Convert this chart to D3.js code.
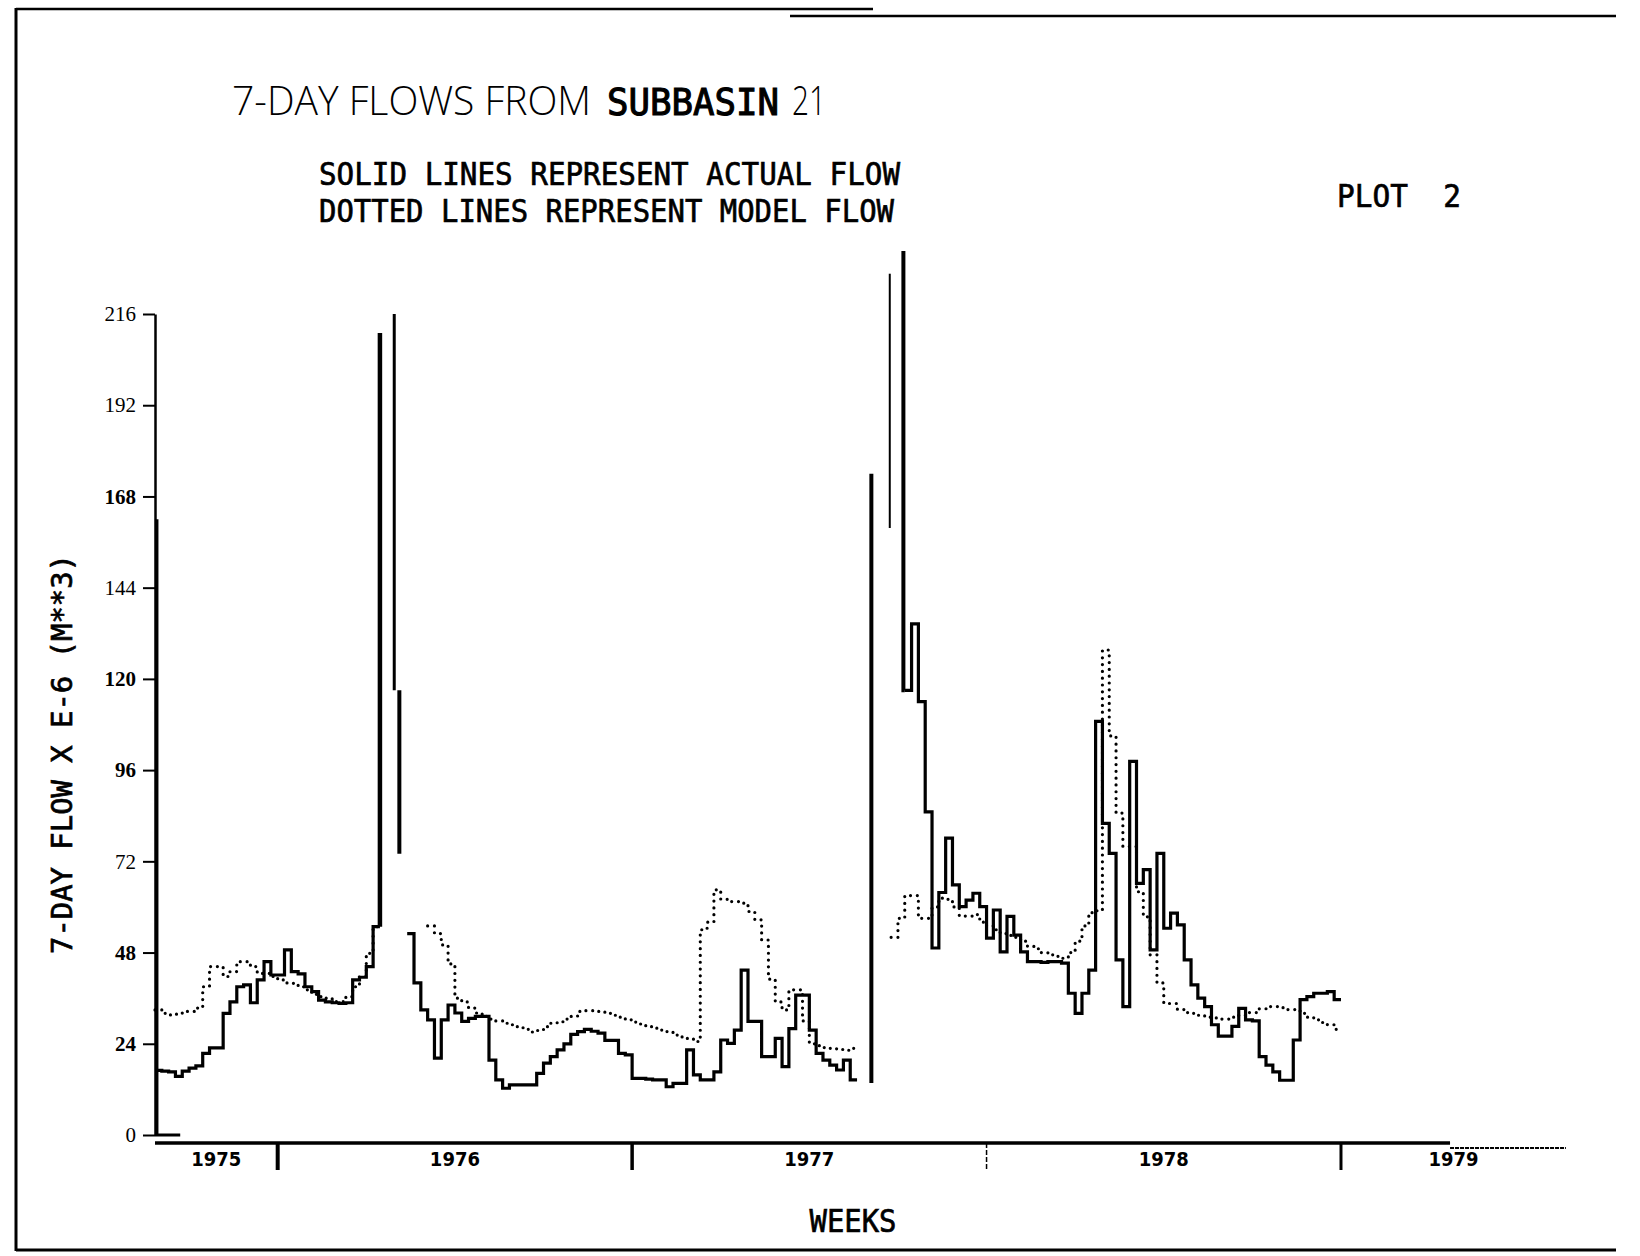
<!DOCTYPE html>
<html>
<head>
<meta charset="utf-8">
<script src="https://cdn.jsdelivr.net/npm/d3@7"></script>
<style>
  html, body { margin: 0; padding: 0; background: #fff; }
  svg { display: block; }
  .plotter { font-family: "DejaVu Sans Mono", "Liberation Mono", monospace; font-weight: normal; fill: #000; stroke: #000; stroke-width: 0.7; }
  .light { font-family: "Open Sans", "Lato", "Noto Sans", sans-serif; font-weight: 300; fill: #000; }
</style>
</head>
<body>
<svg id="chart" width="1640" height="1256"></svg>
<script>
// ---- data -------------------------------------------------------------
// weeks are counted from the first plotted week (late summer 1975)
const yearLabels = ["1975", "1976", "1977", "1978", "1979"];
const yearBreaks = [0, 18, 70, 122, 174, 207];
const yTicks = [0, 24, 48, 72, 96, 120, 144, 168, 192, 216];

// weekly actual flow, 10^6 m^3 (null = off the scale / not plotted)
const actualFlow = [
  17, 16.8, 16.6, 15.4, 16.8, 17.6, 18.2, 21.5, 22.9, 22.9,
  32, 35, 39, 39.5, 34.8, 40.8, 45.6, 42.1, 42.1, 48.7,
  43, 42.4, 39, 37.7, 35.5, 35, 34.8, 34.6, 34.8, 40.8,
  41.5, 44.3, 54.8, null, null, null, null, 53, 40, 32.9,
  30.3, 20.2, 30.3, 34.2, 32.1, 29.9, 30.7, 31.2, 31.2, 19.7,
  14.5, 12.3, 13.2, 13.2, 13.2, 13.2, 16.2, 18.9, 20.6, 22.4,
  24, 26.5, 27.2, 27.8, 27.3, 26.8, 24.9, 24.9, 21.5, 21.1,
  14.9, 14.9, 14.7, 14.5, 14.5, 12.7, 13.6, 13.6, 22.4, 15.8,
  14.5, 14.5, 16.6, 25, 24.1, 27.6, 43.4, 29.9, 29.9, 20.6,
  20.6, 25.4, 18, 28, 36.8, 36.8, 27.6, 21.5, 19.7, 18.4,
  17.1, 19.7, 14.5, null, null, null, null, null, null, null,
  117, 134.5, 114, 85, 49.2, 63.8, 78.1, 65.8, 60.1, 61.8,
  63.6, 60.1, 51.8, 59.2, 48.2, 57.5, 52.6, 48.2, 45.6, 45.6,
  45.4, 45.6, 45.6, 45.2, 37.3, 32, 37.3, 43.4, 108.8, 82,
  74.1, 46.1, 33.8, 98.3, 66.2, 69.8, 48.7, 74.1, 54.4, 58.4,
  55.3, 46.1, 39.5, 36, 33.8, 29, 26, 26, 28.6, 33.3,
  30.3, 30, 20.6, 18.4, 16.6, 14.4, 14.4, 25, 35.6, 36.4,
  37.3, 37.3, 37.7, 35.6
];

// weekly model flow, 10^6 m^3
const modelFlow = [
  32.9, 32, 31.6, 31.8, 32.5, 32.5, 33.4, 39, 44.3, 44.3,
  41.7, 43, 45.6, 45.6, 44.3, 42.5, 42.5, 41.7, 40.8, 40,
  39.9, 39, 38.2, 37, 36.4, 36, 35.1, 35.1, 36.4, 39,
  41.7, 47.8, 54.8, null, null, null, null, null, null, null,
  55, 53, 50, 45, 36, 35, 33.4, 32.1, 31.2, 30.5,
  30, 29.4, 29, 28.5, 27.8, 27.1, 27.5, 28.5, 29.4, 29.8,
  30.5, 31.2, 32.5, 32.7, 32.7, 32.5, 32, 31.5, 31, 30.3,
  29.7, 29.2, 28.5, 28.1, 27.6, 27.2, 26.3, 25.8, 25.4, 24.6,
  54, 56, 64.5, 62, 61.4, 61.4, 61, 58.8, 56.6, 51.3,
  41, 35, 32.9, 38.2, 38.2, 30, 24, 23.5, 23, 22.8,
  22.5, 22.3, 22.8, null, null, null, null, null, 52, 57,
  63, 63, 57, 57, 60, 62.3, 62, 60, 57.6, 57.6,
  58, 56, 55, 54, 53, 52.5, 52, 51, 49.6, 49,
  48, 47.4, 47, 46.5, 48, 51, 55, 58.5, 59, 127.6,
  105, 84.7, 75.9, 75.9, 64, 57.4, 47.4, 40, 34.6, 34.6,
  33, 32.2, 32, 31.5, 31, 30.8, 30.5, 30.5, 31, 31.5,
  32.2, 32.2, 33.2, 33.8, 33.8, 33.5, 33, 33, 32, 31,
  30.3, 29.6, 29, 27.8
];

// pen traces where the actual flow ran off the scale: [week, flow] pairs
const offScaleStrokes = [
  [[0, 0], [3.7, 0]],
  [[0.25, 0], [0.25, 162]],
  [[33, 54.8], [33, 211]],
  [[35.1, 216], [35.1, 117]],
  [[35.85, 117], [35.85, 74]],
  [[105.1, 13.7], [105.1, 174]],
  [[107.8, 226.6], [107.8, 159.7]],
  [[109.8, 232.6], [109.8, 117], [110, 117]]
];

// ---- drawing ------------------------------------------------------------
const svg = d3.select("#chart");
const x = d3.scaleLinear().domain([0, 207]).range([155, 155 + 207 * 6.816]);
const y = d3.scaleLinear().domain([0, 216]).range([1135, 314]);
const line = d3.line().x(d => x(d[0])).y(d => y(d[1]));

// page frame
const frame = svg.append("g").attr("stroke", "#000").attr("fill", "none");
frame.append("line").attr("x1", 16).attr("y1", 8).attr("x2", 16).attr("y2", 1251).attr("stroke-width", 3);
frame.append("line").attr("x1", 16).attr("y1", 9).attr("x2", 873).attr("y2", 9).attr("stroke-width", 2.5);
frame.append("line").attr("x1", 790).attr("y1", 16).attr("x2", 1616).attr("y2", 16).attr("stroke-width", 2.5);
frame.append("line").attr("x1", 16).attr("y1", 1250).attr("x2", 1616).attr("y2", 1250).attr("stroke-width", 3);

// titles
svg.append("text").attr("class", "light").attr("x", 232).attr("y", 115)
  .attr("font-size", 41).attr("textLength", 359).attr("lengthAdjust", "spacingAndGlyphs")
  .text("7-DAY FLOWS FROM");
svg.append("text").attr("class", "plotter").attr("x", 607).attr("y", 115)
  .attr("font-size", 37).attr("textLength", 172).attr("lengthAdjust", "spacingAndGlyphs")
  .style("stroke-width", 1.1)
  .text("SUBBASIN");
svg.append("text").attr("class", "light").attr("x", 792).attr("y", 115)
  .attr("font-size", 41).attr("textLength", 34).attr("lengthAdjust", "spacingAndGlyphs")
  .text("21");

svg.append("text").attr("class", "plotter").attr("x", 319).attr("y", 185)
  .attr("font-size", 32).attr("textLength", 581).attr("lengthAdjust", "spacingAndGlyphs")
  .text("SOLID LINES REPRESENT ACTUAL FLOW");
svg.append("text").attr("class", "plotter").attr("x", 319).attr("y", 222)
  .attr("font-size", 32).attr("textLength", 575).attr("lengthAdjust", "spacingAndGlyphs")
  .text("DOTTED LINES REPRESENT MODEL FLOW");
svg.append("text").attr("class", "plotter").attr("x", 1337).attr("y", 207)
  .attr("font-size", 32).attr("textLength", 124).attr("lengthAdjust", "spacingAndGlyphs")
  .attr("xml:space", "preserve").text("PLOT  2");

// y axis
const boldTicks = new Set([168, 120, 96, 48, 24]);
const yAxis = svg.append("g").attr("transform", `translate(${x(0)},0)`)
  .call(d3.axisLeft(y).tickValues(yTicks).tickSize(12).tickSizeOuter(0).tickPadding(7).tickFormat(d => d));
yAxis.select(".domain").attr("stroke", "#000").attr("stroke-width", 2.5);
yAxis.selectAll(".tick line").attr("stroke", "#000").attr("stroke-width", 2);
yAxis.selectAll(".tick text")
  .attr("font-family", "'Liberation Serif', 'DejaVu Serif', serif")
  .attr("font-size", 21)
  .attr("font-weight", d => boldTicks.has(d) ? "bold" : "normal")
  .attr("fill", "#000");

svg.append("text").attr("class", "plotter")
  .attr("transform", "translate(72,754) rotate(-90)")
  .attr("text-anchor", "middle").attr("font-size", 28)
  .attr("textLength", 400).attr("lengthAdjust", "spacingAndGlyphs")
  .text("7-DAY FLOW X E-6 (M**3)");

// x axis (years)
const axisY = 1143;
svg.append("line").attr("x1", x(0)).attr("x2", x(190)).attr("y1", axisY).attr("y2", axisY)
  .attr("stroke", "#000").attr("stroke-width", 3.5);
svg.append("line").attr("x1", x(190)).attr("x2", x(207)).attr("y1", axisY + 5).attr("y2", axisY + 5)
  .attr("stroke", "#000").attr("stroke-width", 2).attr("stroke-dasharray", "4,1");

const breakWidths = [4, 3.5, 1.5, 3];
svg.append("g").selectAll("line").data(yearBreaks.slice(1, 5)).join("line")
  .attr("x1", d => x(d)).attr("x2", d => x(d))
  .attr("y1", axisY).attr("y2", axisY + 27)
  .attr("stroke", "#000")
  .attr("stroke-width", (d, i) => breakWidths[i])
  .attr("stroke-dasharray", (d, i) => i === 2 ? "5,2" : null);

svg.append("g").selectAll("text").data(yearLabels).join("text")
  .attr("x", (d, i) => x((yearBreaks[i] + yearBreaks[i + 1]) / 2))
  .attr("y", 1166)
  .attr("text-anchor", "middle")
  .attr("font-family", "'Liberation Sans Narrow', 'DejaVu Sans Condensed', 'Liberation Sans', sans-serif")
  .attr("font-weight", "bold").attr("font-size", 20)
  .text(d => d);

svg.append("text").attr("class", "plotter").attr("x", 853).attr("y", 1232)
  .attr("text-anchor", "middle").attr("font-size", 32)
  .attr("textLength", 87).attr("lengthAdjust", "spacingAndGlyphs")
  .text("WEEKS");

// step series: each week holds its value until the next week
function stepRuns(values) {
  const runs = [];
  let cur = null;
  values.forEach((v, i) => {
    if (v == null) { cur = null; return; }
    if (!cur) { cur = []; runs.push(cur); }
    cur.push([i, v], [i + 1, v]);
  });
  return runs;
}

svg.append("g").selectAll("path").data(stepRuns(modelFlow)).join("path")
  .attr("d", line)
  .attr("fill", "none").attr("stroke", "#000")
  .attr("stroke-width", 3.2).attr("stroke-linecap", "round")
  .attr("stroke-dasharray", "0,6.8");

svg.append("g").selectAll("path").data(stepRuns(actualFlow)).join("path")
  .attr("d", line)
  .attr("fill", "none").attr("stroke", "#000")
  .attr("stroke-width", 3.2).attr("stroke-linejoin", "miter");

const traceWidths = [3, 3.5, 4.5, 3, 4, 4, 2, 4];
svg.append("g").selectAll("path").data(offScaleStrokes).join("path")
  .attr("d", line)
  .attr("fill", "none").attr("stroke", "#000")
  .attr("stroke-width", (d, i) => traceWidths[i]);
</script>
</body>
</html>
